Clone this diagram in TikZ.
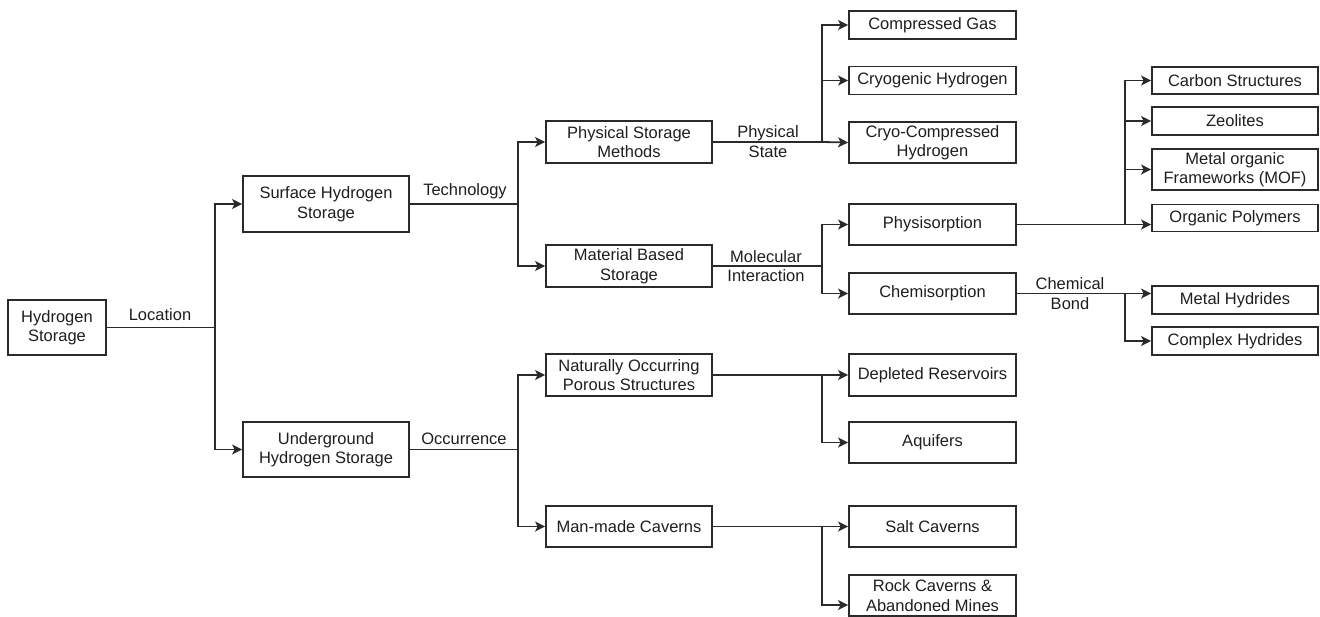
\documentclass[tikz,border=0pt]{standalone}
\usepackage{fontspec}
\setmainfont{Liberation Sans}
\usetikzlibrary{arrows.meta}
\definecolor{ink}{HTML}{1E1E1E}
\definecolor{linec}{HTML}{2A2A2A}
\tikzset{
  box/.style={draw=linec, line width=1.8pt, rectangle, inner sep=0pt, align=center,
    text=ink, font=\fontsize{16.5}{19.5}\selectfont},
  lbl/.style={inner sep=0pt, align=center, text=ink, font=\fontsize{16.5}{19.5}\selectfont},
  conn/.style={draw=linec, line width=1.8pt},
  arr/.style={conn, -{Stealth[length=10pt,width=10pt,inset=2.5pt]}}
}
\begin{document}
\begin{tikzpicture}[x=1pt,y=-1pt]
\useasboundingbox (0,0) rectangle (1320,616);
% column 1
\node[box, minimum width=98pt, minimum height=55pt] (hs) at (57,327.5) {Hydrogen\\Storage};
% column 2
\node[box, minimum width=166pt, minimum height=56pt] (surf) at (326,204) {Surface Hydrogen\\Storage};
\node[box, minimum width=166pt, minimum height=55pt] (under) at (326,449.5) {Underground\\Hydrogen Storage};
% column 3
\node[box, minimum width=166pt, minimum height=42pt] (phys) at (629,142) {Physical Storage\\Methods};
\node[box, minimum width=166pt, minimum height=42pt] (mat) at (629,266) {Material Based\\Storage};
\node[box, minimum width=166pt, minimum height=42pt] (nat) at (629,375) {Naturally Occurring\\Porous Structures};
\node[box, minimum width=166pt, minimum height=41pt] (man) at (629,526.5) {Man-made Caverns};
% column 4
\node[box, minimum width=167pt, minimum height=28pt] (cg) at (932.5,25) {Compressed Gas};
\node[box, minimum width=167pt, minimum height=28pt] (cryo) at (932.5,80.5) {Cryogenic Hydrogen};
\node[box, minimum width=167pt, minimum height=41pt] (cc) at (932.5,142.5) {Cryo-Compressed\\Hydrogen};
\node[box, minimum width=167pt, minimum height=41pt] (physi) at (932.5,224.5) {Physisorption};
\node[box, minimum width=167pt, minimum height=41pt] (chemi) at (932.5,293.5) {Chemisorption};
\node[box, minimum width=167pt, minimum height=42pt] (dep) at (932.5,375) {Depleted Reservoirs};
\node[box, minimum width=167pt, minimum height=41pt] (aq) at (932.5,442.5) {Aquifers};
\node[box, minimum width=167pt, minimum height=41pt] (salt) at (932.5,526.5) {Salt Caverns};
\node[box, minimum width=167pt, minimum height=41pt] (rock) at (932.5,595.5) {Rock Caverns \&\\Abandoned Mines};
% column 5
\node[box, minimum width=166pt, minimum height=27pt] (carbon) at (1235,80.5) {Carbon Structures};
\node[box, minimum width=166pt, minimum height=28pt] (zeo) at (1235,121) {Zeolites};
\node[box, minimum width=166pt, minimum height=41pt] (mof) at (1235,169.5) {Metal organic\\Frameworks (MOF)};
\node[box, minimum width=166pt, minimum height=27pt] (op) at (1235,218) {Organic Polymers};
\node[box, minimum width=166pt, minimum height=28pt] (mh) at (1235,300) {Metal Hydrides};
\node[box, minimum width=166pt, minimum height=28pt] (ch) at (1235,341) {Complex Hydrides};
% junctions
\coordinate (t1) at (215,327.5);
\coordinate (t2) at (518,204);
\coordinate (t3) at (518,449.5);
\coordinate (t4) at (822,142);
\coordinate (t5) at (822,266);
\coordinate (t6) at (822,375);
\coordinate (t7) at (822,526.5);
\coordinate (t8) at (1125,224.5);
\coordinate (t9) at (1125,293.5);
% connectors
\draw[conn] (hs.east) -- (t1);
\draw[arr] (t1) |- (surf.west);
\draw[arr] (t1) |- (under.west);
\draw[conn] (surf.east) -- (t2);
\draw[arr] (t2) |- (phys.west);
\draw[arr] (t2) |- (mat.west);
\draw[conn] (under.east) -- (t3);
\draw[arr] (t3) |- (nat.west);
\draw[arr] (t3) |- (man.west);
\draw[conn] (phys.east) -- (t4);
\draw[arr] (t4) -- (cc.west);
\draw[arr] (t4) |- (cryo.west);
\draw[arr] (t4) |- (cg.west);
\draw[conn] (mat.east) -- (t5);
\draw[arr] (t5) |- (physi.west);
\draw[arr] (t5) |- (chemi.west);
\draw[conn] (nat.east) -- (t6);
\draw[arr] (t6) -- (dep.west);
\draw[arr] (t6) |- (aq.west);
\draw[conn] (man.east) -- (t7);
\draw[arr] (t7) -- (salt.west);
\draw[arr] (t7) |- ([yshift=-9.5pt]rock.west);
\draw[conn] (physi.east) -- (t8);
\draw[arr] (t8) -- (t8 -| op.west);
\draw[arr] (t8) |- (mof.west);
\draw[arr] (t8) |- (zeo.west);
\draw[arr] (t8) |- (carbon.west);
\draw[conn] (chemi.east) -- (t9);
\draw[arr] (t9) -- (t9 -| mh.west);
\draw[arr] (t9) |- (ch.west);
% labels
\node[lbl] (lloc) at (160,315) {Location};
\node[lbl] (ltech) at (465,191) {Technology};
\node[lbl] (locc) at (464,439) {Occurrence};
\node[lbl] (lps) at (768,141.5) {Physical\\State};
\node[lbl] (lmi) at (766,266) {Molecular\\Interaction};
\node[lbl] (lcb) at (1070,293.5) {Chemical\\Bond};
\end{tikzpicture}
\end{document}
